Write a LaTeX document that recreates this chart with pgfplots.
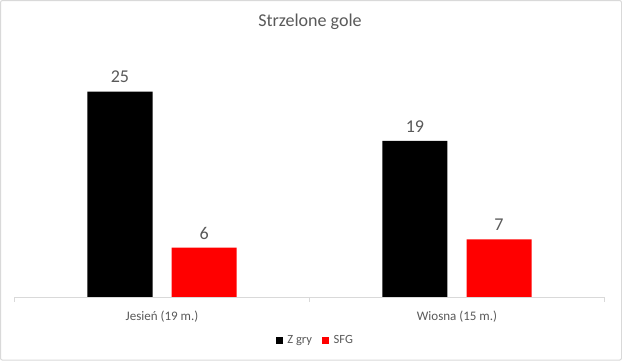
\documentclass[border=0pt]{standalone}
\usepackage{pgfplots}
\pgfplotsset{compat=1.18}
\usepackage{fontspec}
\setmainfont{Carlito}
\definecolor{txt}{HTML}{595959}
\definecolor{axc}{HTML}{D9D9D9}
\begin{document}
\begin{tikzpicture}[x=1bp,y=1bp]
\draw[axc, line width=1bp, rounded corners=2bp] (1,1) rectangle (621,360);
\node[txt, font=\fontsize{18bp}{20bp}\selectfont] at (310,339) {Strzelone gole};
\begin{axis}[
  at={(15bp,64bp)}, anchor=south west,
  scale only axis, width=589bp, height=246bp,
  ymin=0, ymax=30, xmin=-0.5, xmax=1.5,
  axis y line=none, axis x line*=bottom,
  axis line style={axc, line width=0.75bp},
  ybar, bar width=65bp, ybar=19bp,
  xtick={0,1}, xticklabels={Jesień (19 m.), Wiosna (15 m.)},
  major tick length=0pt,
  extra x ticks={-0.5,0.5,1.5}, extra x tick labels={},
  extra x tick style={major tick length=5bp, tick align=outside, tick style={axc, line width=0.75bp}},
  xticklabel style={font=\fontsize{13bp}{15bp}\selectfont, txt, yshift=-10bp},
  /pgf/number format/assume math mode=true,
  nodes near coords,
  nodes near coords style={font=\fontsize{18bp}{20bp}\selectfont, txt, yshift=5bp},
  clip=false,
  legend style={at={(0.51,-0.175)}, anchor=center, draw=none, fill=none,
    legend columns=2, font=\fontsize{12.5bp}{15bp}\selectfont, text=txt,
    /tikz/every odd column/.append style={column sep=2.5bp},
    /tikz/every even column/.append style={column sep=8bp}},
  legend image code/.code={\fill[#1] (0bp,-3.5bp) rectangle (7bp,3.5bp);},
]
\addplot[fill=black, draw=none] coordinates {(0,25) (1,19)};
\addplot[fill=red, draw=none] coordinates {(0,6) (1,7)};
\legend{Z gry, SFG}
\end{axis}
\end{tikzpicture}
\end{document}
